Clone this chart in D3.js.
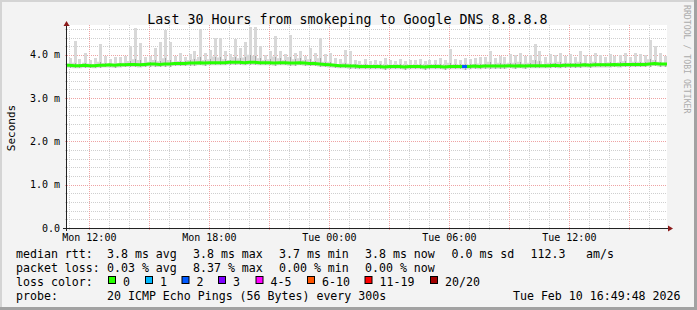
<!DOCTYPE html>
<html>
<head>
<meta charset="utf-8">
<script src="https://cdn.jsdelivr.net/npm/d3@7"></script>
<style>
    html, body { margin: 0; padding: 0; background: #f3f3f3; }
    svg { display: block; }
    text { font-family: "DejaVu Sans Mono", monospace; fill: #000; }
</style>
</head>
<body>
<svg id="chart" width="697" height="310"></svg>
<script>
"use strict";

// ---- data (15 minute bins, values in ms) ----
var startTime = new Date(Date.UTC(2026, 1, 9, 10, 53));
var binMinutes = 15;

var median = [
    3.76,3.75,3.75,3.76,3.75,3.75,3.76,3.76,3.77,3.76,
    3.77,3.77,3.78,3.78,3.77,3.78,3.79,3.79,3.78,3.79,
    3.79,3.80,3.80,3.80,3.81,3.81,3.82,3.81,3.82,3.82,
    3.82,3.82,3.83,3.83,3.83,3.82,3.83,3.83,3.82,3.82,
    3.82,3.81,3.82,3.82,3.81,3.81,3.82,3.81,3.80,3.80,
    3.79,3.78,3.77,3.76,3.75,3.75,3.74,3.74,3.73,3.73,
    3.73,3.73,3.73,3.72,3.73,3.73,3.73,3.72,3.73,3.73,
    3.73,3.72,3.73,3.73,3.73,3.72,3.73,3.73,3.73,3.73,
    3.73,3.74,3.73,3.74,3.74,3.74,3.74,3.74,3.75,3.74,
    3.75,3.74,3.75,3.75,3.75,3.75,3.75,3.76,3.75,3.76,
    3.76,3.76,3.76,3.77,3.76,3.77,3.77,3.77,3.77,3.78,
    3.77,3.78,3.78,3.78,3.78,3.78,3.79,3.80,3.79,3.79
];

// number of lost pings (of 20) per bin
var loss = [
    0,0,0,0,0,0,0,0,0,0, 0,0,0,0,0,0,0,0,0,0,
    0,0,0,0,0,0,0,0,0,0, 0,0,0,0,0,0,0,0,0,0,
    0,0,0,0,0,0,0,0,0,0, 0,0,0,0,0,0,0,0,0,0,
    0,0,0,0,0,0,0,0,0,0, 0,0,0,0,0,0,0,0,0,2,
    0,0,0,0,0,0,0,0,0,0, 0,0,0,0,0,0,0,0,0,0,
    0,0,0,0,0,0,0,0,0,0, 0,0,0,0,0,0,0,0,0,0
];

var smokeMin = [
    3.70,3.69,3.69,3.70,3.70,3.69,3.70,3.71,3.71,3.70,
    3.71,3.72,3.72,3.72,3.71,3.72,3.73,3.73,3.72,3.73,
    3.73,3.74,3.74,3.74,3.75,3.75,3.76,3.75,3.76,3.76,
    3.76,3.76,3.77,3.77,3.77,3.76,3.77,3.77,3.76,3.76,
    3.76,3.75,3.76,3.76,3.75,3.75,3.76,3.75,3.74,3.74,
    3.73,3.72,3.71,3.70,3.69,3.69,3.68,3.68,3.67,3.67,
    3.67,3.67,3.67,3.66,3.67,3.67,3.67,3.66,3.67,3.67,
    3.67,3.66,3.67,3.67,3.67,3.66,3.67,3.67,3.67,3.66,
    3.67,3.68,3.67,3.68,3.68,3.68,3.68,3.68,3.69,3.68,
    3.69,3.68,3.69,3.69,3.69,3.69,3.69,3.70,3.69,3.70,
    3.70,3.70,3.70,3.71,3.70,3.71,3.71,3.71,3.71,3.72,
    3.71,3.72,3.72,3.72,3.72,3.72,3.73,3.74,3.73,3.73
];

var smokeMid = [
    3.80,3.82,3.79,3.82,3.80,3.79,3.84,3.81,3.80,3.80,
    3.81,3.82,3.86,3.90,3.88,3.82,3.84,3.88,3.85,3.92,
    3.88,3.84,3.86,3.85,3.88,3.90,3.95,3.88,3.90,3.96,
    3.94,3.90,3.88,3.95,3.92,3.94,4.00,3.98,3.92,3.88,
    3.90,3.96,3.92,3.88,3.95,3.90,3.92,3.88,3.90,3.86,
    3.92,3.84,3.84,3.80,3.79,3.82,3.80,3.78,3.77,3.78,
    3.77,3.77,3.78,3.77,3.77,3.77,3.78,3.77,3.77,3.77,
    3.78,3.77,3.77,3.78,3.79,3.77,3.82,3.78,3.78,3.79,
    3.78,3.79,3.80,3.79,3.84,3.79,3.82,3.80,3.82,3.82,
    3.84,3.80,3.82,3.88,3.85,3.79,3.82,3.82,3.84,3.81,
    3.82,3.81,3.84,3.82,3.81,3.84,3.82,3.81,3.83,3.82,
    3.83,3.85,3.82,3.84,3.84,3.83,3.90,3.88,3.84,3.82
];

var smokeMax = [
    3.92,4.31,3.90,4.05,3.88,3.92,4.26,3.98,3.90,3.94,
    3.95,3.98,4.20,4.63,4.28,3.95,3.98,4.15,4.30,4.58,
    4.30,3.98,4.05,3.96,4.02,4.08,4.60,4.05,4.12,4.40,
    4.38,4.10,4.02,4.37,4.15,4.30,4.65,4.65,4.20,4.00,
    4.08,4.44,4.10,4.02,4.45,4.05,4.10,3.98,4.15,4.05,
    4.40,4.02,4.05,3.92,3.90,4.12,4.10,3.88,3.86,3.90,
    3.86,3.88,3.85,3.92,3.87,3.86,3.90,3.86,3.88,3.87,
    3.90,3.86,3.88,3.87,3.92,3.88,4.14,3.90,3.88,3.92,
    3.90,3.92,3.95,3.94,4.10,3.92,3.98,3.95,4.02,4.00,
    4.05,3.98,4.00,4.24,4.10,3.96,4.02,4.00,4.05,3.98,
    4.02,3.96,4.10,4.00,3.98,4.05,4.00,3.96,4.02,3.98,
    4.00,4.05,3.96,4.05,4.02,4.00,4.35,4.20,4.05,3.98
];

var yTicks = [0, 1, 2, 3, 4];
var lossLabels = ['0', '1', '2', '3', '4-5', '6-10', '11-19', '20/20'];
var lossLimits = [0, 1, 2, 3, 5, 10, 19, 20];
var lossColors = ['#26ff00', '#00b8ff', '#0059ff', '#7e00ff', '#ff00ff', '#ff5500', '#ff0000', '#a10000'];

var titleText = 'Last 30 Hours from smokeping to Google DNS 8.8.8.8';
var rttStats = ['3.8 ms avg', '3.8 ms max', '3.7 ms min', '3.8 ms now', '0.0 ms sd', '112.3', 'am/s'];
var lossStats = ['0.03 % avg', '8.37 % max', '0.00 % min', '0.00 % now'];
var probeText = '20 ICMP Echo Pings (56 Bytes) every 300s';
var stampText = 'Tue Feb 10 16:49:48 2026';

// ---- layout ----
var W = 697, H = 310;
var plot = { left: 67, right: 667, top: 25, bottom: 228 };

var svg = d3.select('#chart');

var bins = median.map(function(m, i) {
    return {
        t0: d3.utcMinute.offset(startTime, i * binMinutes),
        t1: d3.utcMinute.offset(startTime, (i + 1) * binMinutes),
        median: m,
        loss: loss[i],
        min: smokeMin[i],
        mid: smokeMid[i],
        max: smokeMax[i]
    };
});
var endTime = bins[bins.length - 1].t1;

var x = d3.scaleUtc().domain([startTime, endTime]).range([plot.left, plot.right]);
var y = d3.scaleLinear().domain([0, 4.69]).range([plot.bottom, plot.top]);

function midTime(d) {
    return new Date((d.t0.getTime() + d.t1.getTime()) / 2);
}

// ---- frame ----
svg.append('rect').attr('width', W).attr('height', H).attr('fill', '#f3f3f3');
svg.append('rect').attr('x', 0).attr('y', 0).attr('width', W).attr('height', 2).attr('fill', '#d4d4d4');
svg.append('rect').attr('x', 0).attr('y', 0).attr('width', 2).attr('height', H).attr('fill', '#d4d4d4');
svg.append('rect').attr('x', W - 3).attr('y', 0).attr('width', 3).attr('height', H).attr('fill', '#a2a2a2');
svg.append('rect').attr('x', 0).attr('y', H - 3).attr('width', W).attr('height', 3).attr('fill', '#a2a2a2');

svg.append('rect')
    .attr('x', plot.left).attr('y', plot.top)
    .attr('width', plot.right - plot.left).attr('height', plot.bottom - plot.top)
    .attr('fill', '#ffffff');

// ---- grid ----
var grid = svg.append('g').attr('shape-rendering', 'crispEdges');

var minorY = d3.range(1, 24).map(function(k) { return k * 0.2; })
    .filter(function(v) { return Math.abs(v - Math.round(v)) > 0.01; });

grid.selectAll('line.minorY').data(minorY).enter().append('line')
    .attr('x1', plot.left - 2).attr('x2', plot.right)
    .attr('y1', function(d) { return Math.round(y(d)) + 0.5; })
    .attr('y2', function(d) { return Math.round(y(d)) + 0.5; })
    .attr('stroke', '#cfcfcf').attr('stroke-dasharray', '1,1');

var hourTicks = x.ticks(d3.utcHour.every(1));
var minorX = hourTicks.filter(function(d) { return d.getUTCHours() % 3 !== 0; });
var majorX = hourTicks.filter(function(d) { return d.getUTCHours() % 3 === 0; });

grid.selectAll('line.minorX').data(minorX).enter().append('line')
    .attr('x1', function(d) { return Math.round(x(d)) + 0.5; })
    .attr('x2', function(d) { return Math.round(x(d)) + 0.5; })
    .attr('y1', plot.top).attr('y2', plot.bottom + 2)
    .attr('stroke', '#cfcfcf').attr('stroke-dasharray', '1,1');

grid.selectAll('line.majorY').data(yTicks.slice(1)).enter().append('line')
    .attr('x1', plot.left - 2).attr('x2', plot.right)
    .attr('y1', function(d) { return Math.round(y(d)) + 0.5; })
    .attr('y2', function(d) { return Math.round(y(d)) + 0.5; })
    .attr('stroke', '#eea3a3').attr('stroke-dasharray', '1,1');

grid.selectAll('line.majorX').data(majorX).enter().append('line')
    .attr('x1', function(d) { return Math.round(x(d)) + 0.5; })
    .attr('x2', function(d) { return Math.round(x(d)) + 0.5; })
    .attr('y1', plot.top).attr('y2', plot.bottom + 3)
    .attr('stroke', '#eea3a3').attr('stroke-dasharray', '1,1');

// ---- smoke: continuous envelope plus spikes to each bin's max ----
var stepPoints = bins.concat([{
    t0: endTime,
    min: bins[bins.length - 1].min,
    mid: bins[bins.length - 1].mid
}]);

svg.append('path')
    .datum(stepPoints)
    .attr('fill', '#d8d8d8')
    .attr('d', d3.area()
        .curve(d3.curveStepAfter)
        .x(function(d) { return x(d.t0); })
        .y0(function(d) { return y(d.min); })
        .y1(function(d) { return y(d.mid); }));

svg.append('g').attr('shape-rendering', 'crispEdges')
    .selectAll('rect').data(bins).enter().append('rect')
    .attr('x', function(d) { return Math.round(x(midTime(d))) - 1; })
    .attr('width', 3)
    .attr('y', function(d) { return y(d.max); })
    .attr('height', function(d) { return y(d.min) - y(d.max); })
    .attr('fill', '#d8d8d8');

svg.append('g').attr('shape-rendering', 'crispEdges')
    .selectAll('rect').data(bins).enter().append('rect')
    .attr('x', function(d) { return Math.round(x(midTime(d))); })
    .attr('width', 1)
    .attr('y', function(d) { return y(d.mid); })
    .attr('height', function(d) { return y(d.min) - y(d.mid); })
    .attr('fill', '#a6a6a6');

// ---- median line coloured by loss ----
var linePoints = [{ t: startTime, v: bins[0].median }]
    .concat(bins.map(function(d) { return { t: midTime(d), v: d.median }; }))
    .concat([{ t: endTime, v: bins[bins.length - 1].median }]);

var medianLine = d3.line()
    .x(function(d) { return x(d.t); })
    .y(function(d) { return y(d.v); });

svg.append('path')
    .datum(linePoints)
    .attr('fill', 'none')
    .attr('stroke', lossColors[0])
    .attr('stroke-width', 3)
    .attr('d', medianLine);

function lossColor(n) {
    for (var k = 0; k < lossLimits.length; k++) {
        if (n <= lossLimits[k]) {
            return lossColors[k];
        }
    }
    return lossColors[lossColors.length - 1];
}

svg.selectAll('line.loss')
    .data(bins.filter(function(d) { return d.loss > 0; }))
    .enter().append('line')
    .attr('x1', function(d) { return x(d.t0); })
    .attr('x2', function(d) { return x(d.t1); })
    .attr('y1', function(d) { return y(d.median); })
    .attr('y2', function(d) { return y(d.median); })
    .attr('stroke', function(d) { return lossColor(d.loss); })
    .attr('stroke-width', 3);

// ---- axes ----
var axes = svg.append('g').attr('shape-rendering', 'crispEdges');

axes.append('line')
    .attr('x1', plot.left - 0.5).attr('x2', plot.left - 0.5)
    .attr('y1', plot.bottom + 3).attr('y2', plot.top - 1)
    .attr('stroke', '#222');

axes.append('line')
    .attr('x1', plot.left - 4).attr('x2', plot.right + 2)
    .attr('y1', plot.bottom + 0.5).attr('y2', plot.bottom + 0.5)
    .attr('stroke', '#222');

svg.append('path')
    .attr('d', 'M' + (plot.left - 3.5) + ',' + (plot.top + 1) + 'L' + (plot.left - 0.5) + ',' + (plot.top - 4) +
               'L' + (plot.left + 2.5) + ',' + (plot.top + 1) + 'Z')
    .attr('fill', '#8b1a1a');

svg.append('path')
    .attr('d', 'M' + (plot.right + 1) + ',' + (plot.bottom - 2.5) + 'L' + (plot.right + 6) + ',' + (plot.bottom + 0.5) +
               'L' + (plot.right + 1) + ',' + (plot.bottom + 3.5) + 'Z')
    .attr('fill', '#8b1a1a');

svg.selectAll('text.ylab').data(yTicks).enter().append('text')
    .attr('x', 60)
    .attr('y', function(d) { return y(d) + 3.5; })
    .attr('text-anchor', 'end')
    .style('font-size', '10px')
    .text(function(d) { return d === 0 ? '0.0' : d.toFixed(1) + ' m'; });

var labelFormat = d3.utcFormat('%a %H:%M');
svg.selectAll('text.xlab').data(x.ticks(d3.utcHour.every(6))).enter().append('text')
    .attr('x', function(d) { return x(d); })
    .attr('y', plot.bottom + 13)
    .attr('text-anchor', 'middle')
    .style('font-size', '10px')
    .text(function(d) { return labelFormat(d); });

svg.append('text')
    .attr('transform', 'translate(14.5,128) rotate(-90)')
    .attr('text-anchor', 'middle')
    .style('font-size', '11px')
    .text('Seconds');

svg.append('text')
    .attr('x', 347.5).attr('y', 24)
    .attr('text-anchor', 'middle')
    .style('font-size', '13.3px')
    .text(titleText);

svg.append('text')
    .attr('transform', 'translate(684,5) rotate(90)')
    .style('font-size', '8.2px')
    .style('fill', '#ababab')
    .text('RRDTOOL / TOBI OETIKER');

// ---- legend ----
var legend = svg.append('g').style('font-size', '11.6px').attr('xml:space', 'preserve');
var rowY = [258, 272, 286, 300];
var statX = [107, 193, 279, 365, 451.5, 530.5, 586];

legend.append('text').attr('x', 16).attr('y', rowY[0]).text('median rtt:');
legend.selectAll('text.rtt').data(rttStats).enter().append('text')
    .attr('x', function(d, i) { return statX[i]; })
    .attr('y', rowY[0])
    .text(function(d) { return d; });

legend.append('text').attr('x', 16).attr('y', rowY[1]).text('packet loss:');
legend.selectAll('text.pl').data(lossStats).enter().append('text')
    .attr('x', function(d, i) { return statX[i]; })
    .attr('y', rowY[1])
    .text(function(d) { return d; });

legend.append('text').attr('x', 16).attr('y', rowY[2]).text('loss color:');
var swatchX = [108.5, 145.5, 182, 218.5, 256, 307.5, 365, 430.5];
var swatch = legend.selectAll('g.swatch').data(lossLabels).enter().append('g');
swatch.append('rect')
    .attr('x', function(d, i) { return swatchX[i]; })
    .attr('y', 276.5)
    .attr('width', 7).attr('height', 7)
    .attr('fill', function(d, i) { return lossColors[i]; })
    .attr('stroke', '#000').attr('stroke-width', 1);
swatch.append('text')
    .attr('x', function(d, i) { return swatchX[i] + 14.5; })
    .attr('y', rowY[2])
    .text(function(d) { return d; });

legend.append('text').attr('x', 16).attr('y', rowY[3]).text('probe:');
legend.append('text').attr('x', 107).attr('y', rowY[3]).text(probeText);
legend.append('text').attr('x', 680.5).attr('y', rowY[3]).attr('text-anchor', 'end').text(stampText);
</script>
</body>
</html>
